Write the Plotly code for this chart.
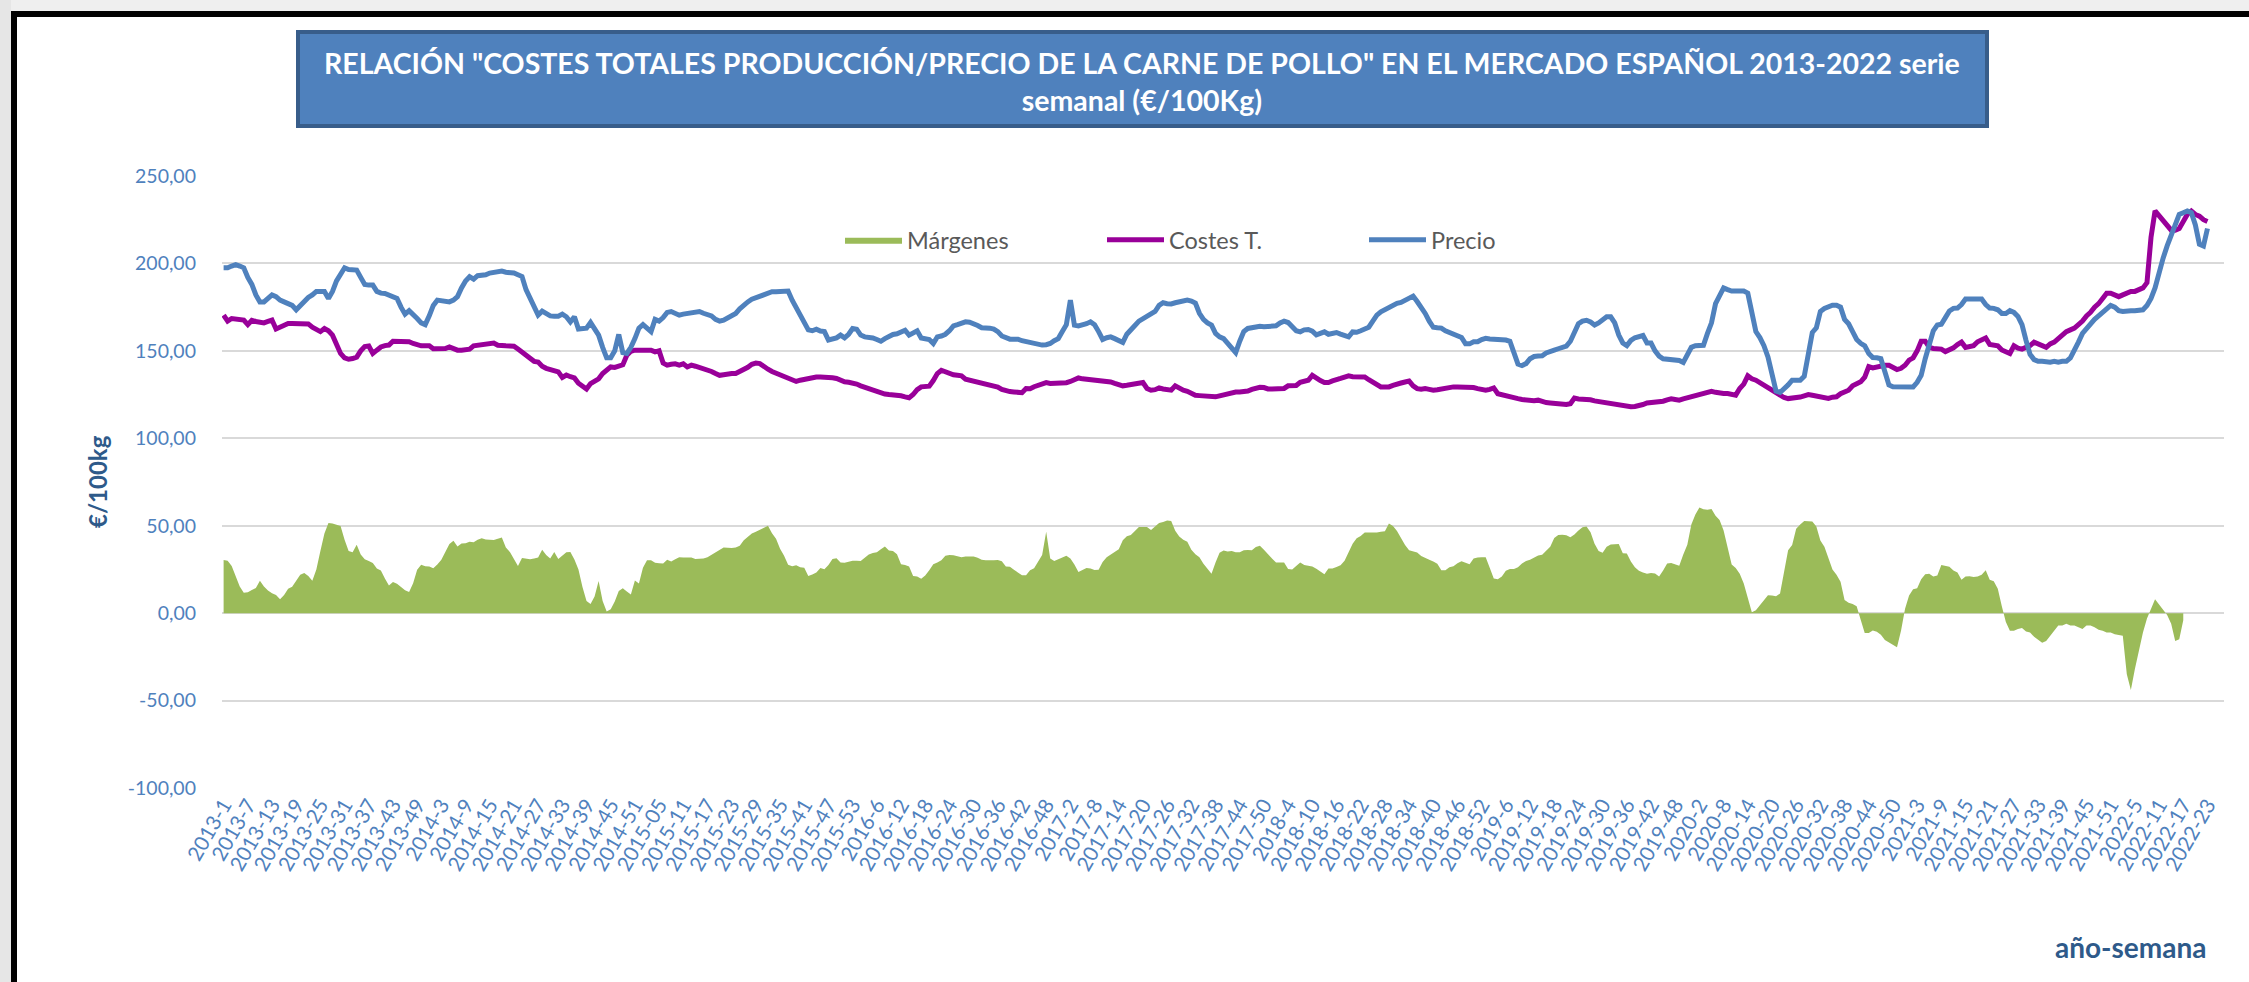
import plotly.graph_objects as go

# semanas por año en la serie (2013-1 ... 2022-23)
ANIOS = [2013, 2014, 2015, 2016, 2017, 2018, 2019, 2020, 2021, 2022]
SEMANAS = [52, 52, 53, 52, 52, 52, 52, 53, 52, 23]

# Precio (€/100kg), semanal
PRECIO = [
    197.5, 197.5, 198.5, 199.3, 198.5, 197.5, 192, 188, 182, 178,
    178, 180, 182, 181, 179, 178, 177, 176, 173.5, 176,
    179, 180.5, 182, 184, 184, 184, 180, 184, 190, 194,
    197.5, 196.5, 196.2, 196.2, 192, 188, 187.6, 187.6, 184, 183,
    182.8, 182, 181, 180, 175, 171, 173, 171, 168.5, 166,
    165, 170, 176, 179, 178.5, 178, 178, 179, 181, 186,
    190, 192.4, 191, 193, 193, 193.5, 194.5, 195, 195.2, 195.6,
    195, 194.8, 194.5, 193.5, 192.5, 185, 180, 175, 170.5, 172.7,
    171, 170, 169.8, 169.8, 171, 169.5, 166.5, 169.5, 162.5, 162.8,
    163, 166.2, 163, 159, 152, 146, 146, 150, 159.4, 149,
    148.5, 152, 157, 163, 165, 163, 161, 168, 167, 169,
    172, 172.5, 171.4, 170.4, 171, 171.4, 171.4, 172, 172.5, 171.5,
    171, 170, 168, 167, 167.6, 169, 170.4, 171.4, 174, 176.5,
    178, 179.5, 180.5, 181.3, 182.5, 183.4, 183.8, 183.8, 183.8, 184,
    184.2, 179, 175, 170, 166.6, 162, 161.5, 162.4, 161.3, 161,
    156.2, 156.7, 157.4, 159, 157.4, 159.5, 162.8, 162.4, 159, 158,
    157.8, 157.4, 156.5, 155.5, 157, 158.5, 159.4, 159.8, 160.8, 161.8,
    159, 160.5, 161.5, 157.4, 157, 156.5, 154.2, 158, 158.5, 159.5,
    161.5, 164.3, 165, 166, 166.6, 166.4, 165.8, 164.5, 163.2, 163.2,
    163, 162.4, 161, 158.5, 157.2, 156.7, 156.7, 156.7, 155.8, 155.2,
    154.9, 154.3, 153.6, 153.3, 153.5, 154.2, 155.8, 157, 161, 165,
    179, 164.7, 164.3, 164.8, 165.5, 166.6, 165, 161, 156.5, 157.5,
    158, 157, 155.5, 154.8, 159.5, 162.5, 164.5, 167, 168.5, 170.2,
    171.5, 172.5, 176, 177.5, 177, 176.8, 177.5, 178.2, 179, 179,
    178.5, 177.3, 171.5, 168, 166, 164.7, 160, 158, 157, 154,
    151.5, 149, 155.5, 161, 162.8, 163.2, 164.2, 164, 163.8, 164.2,
    164.3, 164.3, 166, 167, 166.2, 163.5, 161.5, 160.9, 162, 162.2,
    161.3, 159.2, 160, 160.9, 159.5, 160, 160.5, 159.6, 158.8, 158,
    160.8, 160.6, 161.5, 162.5, 163.5, 167, 170.4, 172.3, 173.5, 175.5,
    176.4, 177.2, 177.7, 178.7, 179.6, 181.3, 178.2, 175, 171.4, 167,
    163.5, 163.2, 163, 161.5, 160.5, 159.9, 159, 157.7, 154, 154,
    155.2, 155.2, 156.5, 157.2, 156.8, 156.7, 156.7, 156.6, 156.2, 155.5,
    149, 142.5, 141.6, 142.7, 145.5, 146.8, 147, 147.2, 148.8, 150,
    150.4, 151.2, 151.9, 152.7, 155.5, 161, 165.5, 167, 167.5, 166.5,
    164.8, 166, 168, 169.5, 169.5, 166, 159, 154.5, 153, 156,
    157.5, 158, 158.8, 154.5, 154.5, 150, 147, 145.5, 145.2, 145.2,
    145.2, 144.5, 143.4, 147.5, 152, 152.9, 153, 153.2, 160, 166,
    177, 182, 186, 185, 184.2, 184.2, 184.2, 184.2, 183, 172,
    161, 157.6, 153, 146.5, 137, 127, 126.2, 128, 130.5, 133.2,
    133.2, 133.2, 135.5, 148, 160.5, 163.2, 172.5, 174.2, 175.5, 176.1,
    176.1, 175, 168, 165.5, 161, 156.5, 154.3, 152.9, 148.5, 146.2,
    146, 145.5, 138, 130.5, 129.5, 129.4, 129.4, 129.4, 129.4, 129.4,
    132, 136, 145.5, 154.5, 161.5, 164.8, 165.2, 169, 172.8, 174.3,
    174.5, 176.5, 179.6, 179.6, 179.6, 179.6, 179.6, 176.5, 174.5, 174.3,
    173.5, 171.4, 171.4, 173, 172, 169.7, 165, 156, 148, 145,
    144, 144, 143.5, 143.5, 144, 143.5, 144, 144, 146, 150,
    155, 160, 163, 166, 168, 170, 172, 174, 176, 175,
    173, 172.5, 173, 173, 173, 173, 173.5, 176, 180, 186,
    195, 203, 210, 216, 222, 228, 229, 230, 229, 222,
    211, 210, 220,
]

# Costes totales de producción (€/100kg), semanal
COSTES = [
    170.4, 167, 168.5, 168.3, 168.1, 167.6, 165, 167.5, 166.8, 166.3,
    166, 166.8, 167.6, 162.5, 163.7, 165, 165.6, 165.6, 165.6, 165.6,
    165, 165.4, 163.5, 162, 161, 162.8, 161.5, 159, 154.5, 148.5,
    146, 145.2, 145.6, 146.4, 150, 152.5, 152.8, 148.5, 150.4, 152.2,
    153, 153.3, 155.5, 155.6, 155.2, 155.2, 155.2, 154.2, 153.5, 152.9,
    152.9, 152.9, 151.2, 151.3, 151.7, 151.3, 152.3, 151.2, 150.4, 150.4,
    150.4, 151, 152.9, 153.2, 153.6, 153.6, 153.6, 154.5, 153.2, 152.8,
    152.9, 152.8, 152.7, 151, 149.2, 147.5, 145, 144, 143.6, 141.2,
    140, 139.2, 138.6, 138, 134.8, 136.2, 135.2, 134.5, 131.5, 130,
    128.2, 131.3, 132.3, 134, 137, 139, 140.8, 140.5, 141, 142,
    147.5, 149.8, 150.4, 150.4, 150.8, 150.6, 150.4, 149.4, 150, 143,
    141.8, 142.3, 142.6, 141.8, 142.6, 140.8, 141.8, 141.2, 140.6, 139.7,
    139, 138.2, 137, 136, 136.3, 137, 137, 137, 138, 138.9,
    140.6, 142.3, 143, 142.7, 140.8, 139.5, 138.2, 137.2, 136.2, 135,
    134.2, 133.3, 132.5, 133.2, 133.8, 134.3, 134.7, 135, 135.1, 135.1,
    135, 134.6, 134.2, 133.2, 132.3, 132, 131.8, 131, 130, 129.2,
    128.3, 127.5, 126.5, 125.7, 125.3, 125, 125, 125, 124.3, 123.7,
    123.2, 125, 127.8, 129.4, 129.4, 129.8, 133, 137, 138.9, 138,
    137, 136.3, 136, 135.7, 133.8, 133.2, 132.7, 132, 131.3, 130.8,
    130.4, 130, 129.3, 128, 127, 126.7, 126.5, 126.3, 126.1, 128.5,
    128.4, 129.5, 130.4, 131.6, 131.8, 131.3, 131.3, 131.3, 131.3, 131.8,
    132.5, 133.5, 134.5, 134, 133.8, 133.8, 133.7, 133.2, 133, 132.8,
    132.2, 131.4, 130.8, 130, 130.3, 130.6, 131, 131.5, 131.9, 128.5,
    127.5, 127.8, 128.8, 128.2, 127.8, 127.5, 130, 128.5, 127.5, 126.9,
    125.5, 124.6, 124.4, 124.2, 124, 123.9, 123.7, 124.3, 125, 125.8,
    126.2, 126.5, 126.5, 126.5, 127, 128, 128.6, 129.2, 129, 128.2,
    128.2, 128.4, 128.2, 128.5, 130, 130, 130.2, 132, 132.9, 133.2,
    136, 134.2, 133, 131.9, 131.9, 132.8, 133.8, 134.2, 135, 135.7,
    135.2, 135.1, 135.1, 135.1, 133.5, 131.9, 130.7, 129.4, 129.4, 129.4,
    130.3, 131.3, 131.6, 132.2, 132.7, 130, 128.4, 128, 128.4, 128,
    127.5, 127.8, 128.3, 128.8, 129.1, 129.4, 129.4, 129.4, 129.4, 129.4,
    129, 128.4, 127.9, 127.5, 128, 128.8, 125.5, 124.8, 124.3, 123.6,
    123, 122.7, 122.2, 121.8, 121.2, 121.5, 121.8, 121, 120.4, 120.2,
    119.8, 119.4, 119, 119.3, 119.8, 123, 122.5, 122.3, 122.7, 122,
    121.4, 121, 120.8, 120.4, 120, 119.8, 119.3, 118.9, 118.5, 118,
    118.2, 118.5, 119.3, 120.2, 120.4, 120.4, 120.8, 121.2, 122, 122.6,
    122.2, 121.8, 122.5, 123.1, 123.6, 124.2, 125.2, 126.1, 126.5, 126.9,
    126.3, 125.6, 125.6, 125.6, 125.1, 124.7, 128.5, 131, 135.7, 134,
    133.2, 131.8, 130.5, 129.5, 128, 126.5, 124.5, 123.3, 122.7, 122.9,
    123.1, 123.6, 124.3, 125, 124.6, 124.2, 124.2, 123.5, 122.8, 123.5,
    123.7, 125.5, 126.5, 127.5, 130, 131.5, 132.3, 135, 141, 140.3,
    140.8, 141.6, 141.8, 141.8, 140.8, 139.3, 140, 141.8, 144.7, 146,
    150, 155.5, 155.5, 152, 151.4, 151.2, 151, 149.6, 150.5, 151.7,
    153.6, 155, 152, 152.3, 153, 155.2, 156.3, 157.4, 153.6, 153.2,
    152.9, 150.5, 149.5, 148.5, 152.9, 151.5, 151, 152, 153, 155,
    154, 153, 152, 154, 155, 157, 159, 161, 162, 163,
    165, 167, 170, 172, 175, 177, 180, 183, 183, 182,
    181, 182, 183, 184, 184, 185, 186, 189, 215, 230,
    227, 224, 221, 219, 219, 220, 224, 228, 230, 228,
    227, 225, 224,
]

# Márgenes (€/100kg): la serie de área, tal como aparece dibujada
MARGENES = [
    30.4, 29.9, 27, 20.5, 15.2, 11.7, 12, 13.2, 14.4, 18.5,
    15.3, 13, 11.4, 10.4, 7.9, 10.4, 14, 15.1, 18.5, 22,
    23, 21.2, 18.5, 25, 35.5, 45.5, 51.5, 51.3, 50.6, 49.8,
    42, 35.5, 34.8, 39.1, 33.6, 30.8, 29.8, 28.7, 25.5, 24.4,
    19.8, 15.8, 17.8, 16.8, 15, 13.1, 12.1, 17.1, 24.8, 27.7,
    26.8, 26.7, 25.7, 27.8, 30.6, 35.6, 39.6, 41.4, 38.1, 39.8,
    39.9, 40.9, 40.5, 42, 42.8, 42.1, 42, 41.8, 42.5,
    43.3, 37.5, 35, 31, 26.9, 31.5, 31, 30.8, 31.2, 31.8,
    36.2, 33.3, 31.3, 35, 31, 32.8, 34.8, 34.9, 30.7, 25,
    15, 7, 5.2, 9.5, 18.4, 7, 1, 2.2, 6.6, 12.6,
    14.2, 12.4, 10.6, 18.6, 17, 26, 30.2, 30.2, 28.8, 28.6,
    28.4, 30.6, 29.6, 30.8, 31.9, 31.8, 32, 31.8, 31, 31,
    31.3, 32, 33.4, 34.4, 36, 37.6, 37.4, 37.2, 37.5, 38.6,
    41.7, 43.9, 45.6, 46.6, 47.6, 49, 50, 45.7, 42.5, 36.8,
    32.8, 27.7, 26.8, 27.4, 26.2, 25.9, 21.2, 22.1, 23.2, 25.8,
    25.1, 27.5, 31, 31.4, 29, 28.8, 29.5, 29.9, 30, 29.8,
    31.7, 33.5, 34.4, 34.8, 36.5, 38.1, 35.8, 35.5, 33.7, 28,
    27.6, 26.7, 21.2, 21, 19.6, 21.5, 24.5, 28, 29, 30.3,
    32.8, 33.2, 33.1, 32.5, 31.9, 32.4, 32.6, 32.4, 31.7, 30.5,
    30.2, 30, 30.2, 30.4, 29.7, 26.7, 26.5, 24.8, 23.2, 21.7,
    21.7, 24.5, 25.7, 29.7, 33.2, 46.5, 31.2, 29.8, 30.8,
    31.7, 32.8, 31.3, 27.8, 23.5, 24.7, 25.8, 25.6, 24.7, 24.8,
    29.2, 31.9, 33.5, 35.5, 36.6, 41.7, 44, 44.7, 47.2, 49.3,
    49.2, 49.3, 47.5, 49.7, 51.5, 52.1, 53, 52.7, 47.1, 43.8,
    42, 40.8, 36.3, 33.7, 32, 28.2, 25.3, 22.5, 29, 34.5,
    35.8, 35.2, 35.6, 34.8, 34.8, 36, 36.1, 35.9, 37.8, 38.5,
    36.2, 33.5, 31.3, 28.9, 29.1, 29, 25.3, 25, 27, 29,
    27.6, 27.2, 26.7, 25.4, 23.8, 22.3, 25.6, 25.5, 26.4, 27.4,
    30, 35.1, 39.7, 42.9, 44.1, 46.1, 46.1, 45.9, 46.1, 46.5,
    46.9, 51.3, 49.8, 47, 43, 39, 36, 35.4, 34.7, 32.7,
    31.4, 30.5, 29.6, 28.3, 24.6, 24.6, 26.2, 26.8, 28.6, 29.7,
    28.8, 27.9, 31.2, 31.8, 31.9, 31.9, 26, 19.8, 19.4, 20.9,
    24.3, 25.3, 25.2, 26.2, 28.4, 29.8, 30.6, 31.8, 32.9, 33.4,
    35.7, 38, 43, 44.7, 44.8, 44.5, 43.4, 45, 47.2, 49.1,
    49.5, 46.2, 39.7, 35.6, 34.5, 38, 39.3, 39.5, 39.5, 34.3,
    34.1, 29.6, 26.2, 24.3, 23.2, 22.6, 23, 22.7, 20.9, 24.4,
    28.4, 28.7, 27.8, 27.1, 33.5, 39.1, 50.7, 56.4, 60.4, 59.4,
    59.1, 59.5, 55.7, 53.2, 47.3, 38, 27.8, 25.8, 22.5, 17,
    9, 0.5, 1.7, 4.7, 7.8, 10.3, 10.1, 9.6, 11.2, 23,
    35.9, 39, 48.3, 50.7, 52.7, 52.6, 52.4, 49.5, 41.5, 38,
    31, 25, 22, 17.9, 7.5, 5.9, 5.2, 3.9, -3.8, -11.3,
    -11.3, -9.9, -10.6, -12.4, -15.3, -16.6, -18, -19.5, -10, 2.5,
    10.1, 13.6, 14.2, 19.4, 22.3, 22.6, 20.9, 21.5, 27.6, 27.3,
    26.6, 24.4, 23.3, 19.1, 20.9, 21.1, 20.6, 20.9, 21.9, 24.5,
    19.1, 18.2, 14, 4, -5, -10, -10, -9, -8.5, -10.5,
    -11, -13.5, -15, -17, -16, -13, -10, -7, -7, -6,
    -7, -7, -8, -9, -7, -7, -8, -9.5, -10, -11,
    -11, -12, -12.5, -13, -35, -44, -32, -21, -11, -3,
    3, 8, 5, 2, -1, -6, -16, -15, -4,
]

Y_TICKS = [-100, -50, 0, 50, 100, 150, 200, 250]
Y_TICK_TEXT = ["-100,00", "-50,00", "0,00", "50,00", "100,00", "150,00", "200,00", "250,00"]

TITULO = ('RELACIÓN "COSTES TOTALES PRODUCCIÓN/PRECIO DE LA CARNE DE POLLO" '
          'EN EL MERCADO ESPAÑOL 2013-2022 serie<br>semanal (€/100Kg)')

# categorías año-semana
semanas = []
for anio, n in zip(ANIOS, SEMANAS):
    for s in range(1, n + 1):
        semanas.append(f"{anio}-{s:02d}" if anio == 2015 else f"{anio}-{s}")

assert len(PRECIO) == len(semanas) and len(COSTES) == len(semanas), (len(PRECIO), len(COSTES), len(semanas))

W, H = 2249, 982
L, R, T, B = 222, 25, 176, 194
FONT = "Lato, 'Open Sans', sans-serif"
AZUL_TXT = "#2E5A8A"


def px_x(x):
    return (x - L) / (W - L - R)


def px_y(y):
    return (H - B - y) / (H - T - B)


fig = go.Figure()
fig.add_trace(go.Scatter(x=semanas[:len(MARGENES)], y=MARGENES, name="Márgenes",
                         mode="lines", fill="tozeroy", fillcolor="#9BBB59",
                         line=dict(width=0, color="#9BBB59")))
fig.add_trace(go.Scatter(x=semanas, y=COSTES, name="Costes T.", mode="lines",
                         line=dict(width=5, color="#990099")))
fig.add_trace(go.Scatter(x=semanas, y=PRECIO, name="Precio", mode="lines",
                         line=dict(width=5, color="#4F81BD")))

shapes = [
    # marco de la captura
    dict(type="rect", xref="paper", yref="paper", x0=px_x(0), x1=px_x(W), y0=px_y(0), y1=px_y(11),
         fillcolor="#EFEFEF", line_width=0, layer="below"),
    dict(type="rect", xref="paper", yref="paper", x0=px_x(0), x1=px_x(11), y0=px_y(0), y1=px_y(H),
         fillcolor="#E6E6E6", line_width=0, layer="below"),
    dict(type="rect", xref="paper", yref="paper", x0=px_x(11), x1=px_x(W), y0=px_y(11), y1=px_y(17),
         fillcolor="black", line_width=0, layer="below"),
    dict(type="rect", xref="paper", yref="paper", x0=px_x(11), x1=px_x(17), y0=px_y(11), y1=px_y(H),
         fillcolor="black", line_width=0, layer="below"),
    # caja del título
    dict(type="rect", xref="paper", yref="paper", x0=px_x(298), x1=px_x(1987), y0=px_y(126), y1=px_y(32),
         fillcolor="#4F81BD", line=dict(color="#385D8A", width=4), layer="below"),
]

annotations = [
    dict(text=f"<b>{TITULO}</b>", xref="paper", yref="paper", x=px_x(1142), y=px_y(81),
         xanchor="center", yanchor="middle", showarrow=False, align="center",
         font=dict(family=FONT, size=28.5, color="white")),
    dict(text="<b>€/100kg</b>", xref="paper", yref="paper", x=px_x(97), y=px_y(482),
         xanchor="center", yanchor="middle", textangle=-90, showarrow=False,
         font=dict(family=FONT, size=24, color=AZUL_TXT)),
    dict(text="<b>año-semana</b>", xref="paper", yref="paper", x=px_x(2130), y=px_y(947),
         xanchor="center", yanchor="middle", showarrow=False,
         font=dict(family=FONT, size=28, color=AZUL_TXT)),
]

fig.update_layout(
    width=W, height=H,
    margin=dict(l=L, r=R, t=T, b=B),
    paper_bgcolor="white", plot_bgcolor="white",
    font=dict(family=FONT),
    showlegend=True,
    legend=dict(orientation="h", x=px_x(840), y=px_y(240), xanchor="left", yanchor="middle",
                font=dict(family=FONT, size=23.5, color="#595959"),
                entrywidth=190, entrywidthmode="pixels", itemwidth=57,
                bgcolor="rgba(0,0,0,0)", traceorder="normal"),
    shapes=shapes,
    annotations=annotations,
    hovermode=False,
)

fig.update_xaxes(type="category", range=[-0.4, 496.1],
                 tickmode="array", tickvals=semanas[::6], ticktext=semanas[::6],
                 tickangle=-60, tickfont=dict(family=FONT, size=20.5, color="#4F81BD"),
                 showgrid=False, zeroline=False, showline=False, ticks="")

fig.update_yaxes(range=[-100, 250], tickmode="array", tickvals=Y_TICKS, ticktext=Y_TICK_TEXT,
                 tickfont=dict(family=FONT, size=19.5, color="#4F81BD"),
                 gridcolor="#D9D9D9", gridwidth=2, zeroline=False, showline=False,
                 ticks="", ticklabelstandoff=25)

# sin margen en <body>, para que la figura ocupe exactamente la ventana
fig.write_html("out.html", config={"displayModeBar": False},
               post_script="document.body.style.margin='0';")
